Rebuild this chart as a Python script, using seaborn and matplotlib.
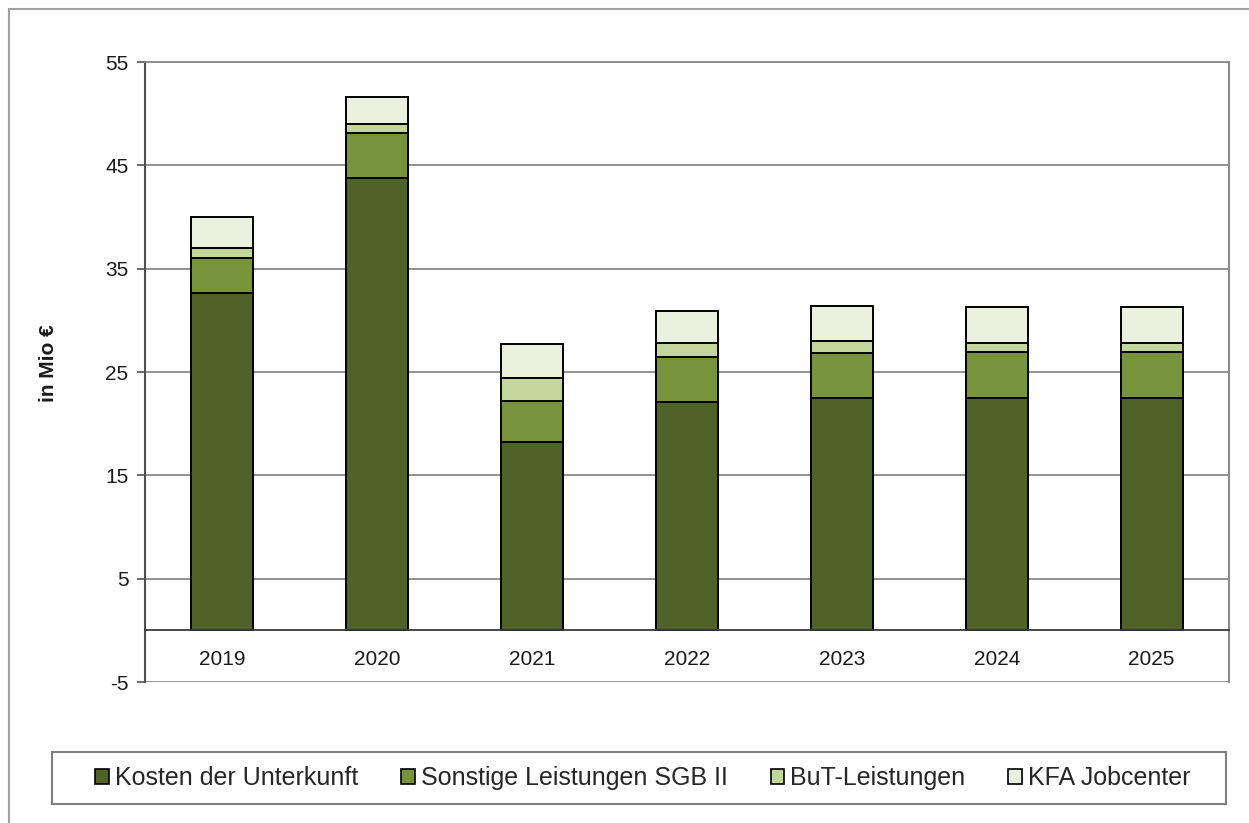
import numpy as np
import pandas as pd
import matplotlib
matplotlib.use('Agg')
import matplotlib.pyplot as plt
from matplotlib.patches import Rectangle, Patch
import seaborn as sns

# Werte in Mio €
years = ['2019', '2020', '2021', '2022', '2023', '2024', '2025']
kdu = [32.6, 43.8, 18.2, 22.1, 22.45, 22.5, 22.5]
sonstige = [3.4, 4.3, 4.0, 4.35, 4.4, 4.45, 4.45]
but = [1.0, 0.9, 2.25, 1.4, 1.15, 0.9, 0.9]
kfa = [3.0, 2.6, 3.3, 3.1, 3.35, 3.45, 3.45]

series_names = ['Kosten der Unterkunft', 'Sonstige Leistungen SGB II',
                'BuT-Leistungen', 'KFA Jobcenter']
colors = ['#4F6228', '#77933C', '#C3D69B', '#EBF1DE']
yticks = [-5, 5, 15, 25, 35, 45, 55]

sns.set_theme(style='white')
plt.rcParams['font.family'] = ['Liberation Sans', 'DejaVu Sans']
plt.rcParams['axes.unicode_minus'] = False

df = pd.DataFrame({'Jahr': years, series_names[0]: kdu, series_names[1]: sonstige,
                   series_names[2]: but, series_names[3]: kfa})
cum = df[series_names].cumsum(axis=1)
cum['Jahr'] = df['Jahr']

fig = plt.figure(figsize=(12.49, 8.23), dpi=100)
ax = fig.add_axes([145 / 1249, 1 - 682 / 823, (1229 - 145) / 1249, 620 / 823])

# gestapelt: groesste Summe zuerst, dann ueberdecken
for name, col in reversed(list(zip(series_names, colors))):
    sns.barplot(data=cum, x='Jahr', y=name, color=col, saturation=1, width=0.4,
                edgecolor='black', linewidth=1.4, ax=ax)

ax.set_xlim(-0.5, len(years) - 0.5)
ax.set_ylim(-5, 55)
ax.set_yticks(yticks)
ax.set_yticklabels([str(t) for t in yticks])
ax.set_xlabel('')
ax.set_ylabel('')
ax.set_axisbelow(True)
ax.grid(axis='y', color='#8a8a8a', linewidth=1.3)
ax.grid(axis='x', visible=False)

ax.spines['bottom'].set_position(('data', 0))
ax.spines['bottom'].set_color('#3a3a3a')
ax.spines['bottom'].set_linewidth(1.3)
ax.spines['left'].set_color('#505050')
ax.spines['left'].set_linewidth(1.5)
ax.spines['right'].set_color('#8a8a8a')
ax.spines['right'].set_linewidth(1.5)
ax.spines['top'].set_color('#8a8a8a')
ax.spines['top'].set_linewidth(1.3)

ax.set_xticks(np.arange(-0.5, len(years)), minor=True)
ax.tick_params(axis='x', which='major', length=0, pad=14, labelsize=15, colors='#1a1a1a')
ax.tick_params(axis='x', which='minor', length=6, width=1.2, color='#505050', direction='out')
ax.tick_params(axis='y', length=6, width=1.2, color='#505050', left=True, pad=6,
               labelsize=15, labelcolor='#1a1a1a')

fig.text(49 / 1249, 1 - 363 / 823, 'in Mio €', rotation=90, ha='center', va='center',
         fontsize=15, fontweight='bold', color='#1a1a1a')

# Rahmen aussen und Legendenrahmen
fig.patches.append(Rectangle((9 / 1249, -0.1), 1.2, 1.1 - 9 / 823, transform=fig.transFigure,
                             fill=False, edgecolor='#a0a0a0', linewidth=1.5))
fig.patches.append(Rectangle((52 / 1249, 1 - 804 / 823), (1226 - 52) / 1249, 52 / 823,
                             transform=fig.transFigure, fill=False,
                             edgecolor='#7f7f7f', linewidth=1.5))

handles = [Patch(facecolor=c, edgecolor='black', linewidth=1.2) for c in colors]
fig.legend(handles, series_names, loc='center', bbox_to_anchor=(643 / 1249, 1 - 778 / 823),
           ncol=4, frameon=False, fontsize=18, handlelength=0.55, handleheight=0.55,
           handletextpad=0.25, columnspacing=1.7, borderpad=0)

fig.savefig('out.png', dpi=100, facecolor='white')
